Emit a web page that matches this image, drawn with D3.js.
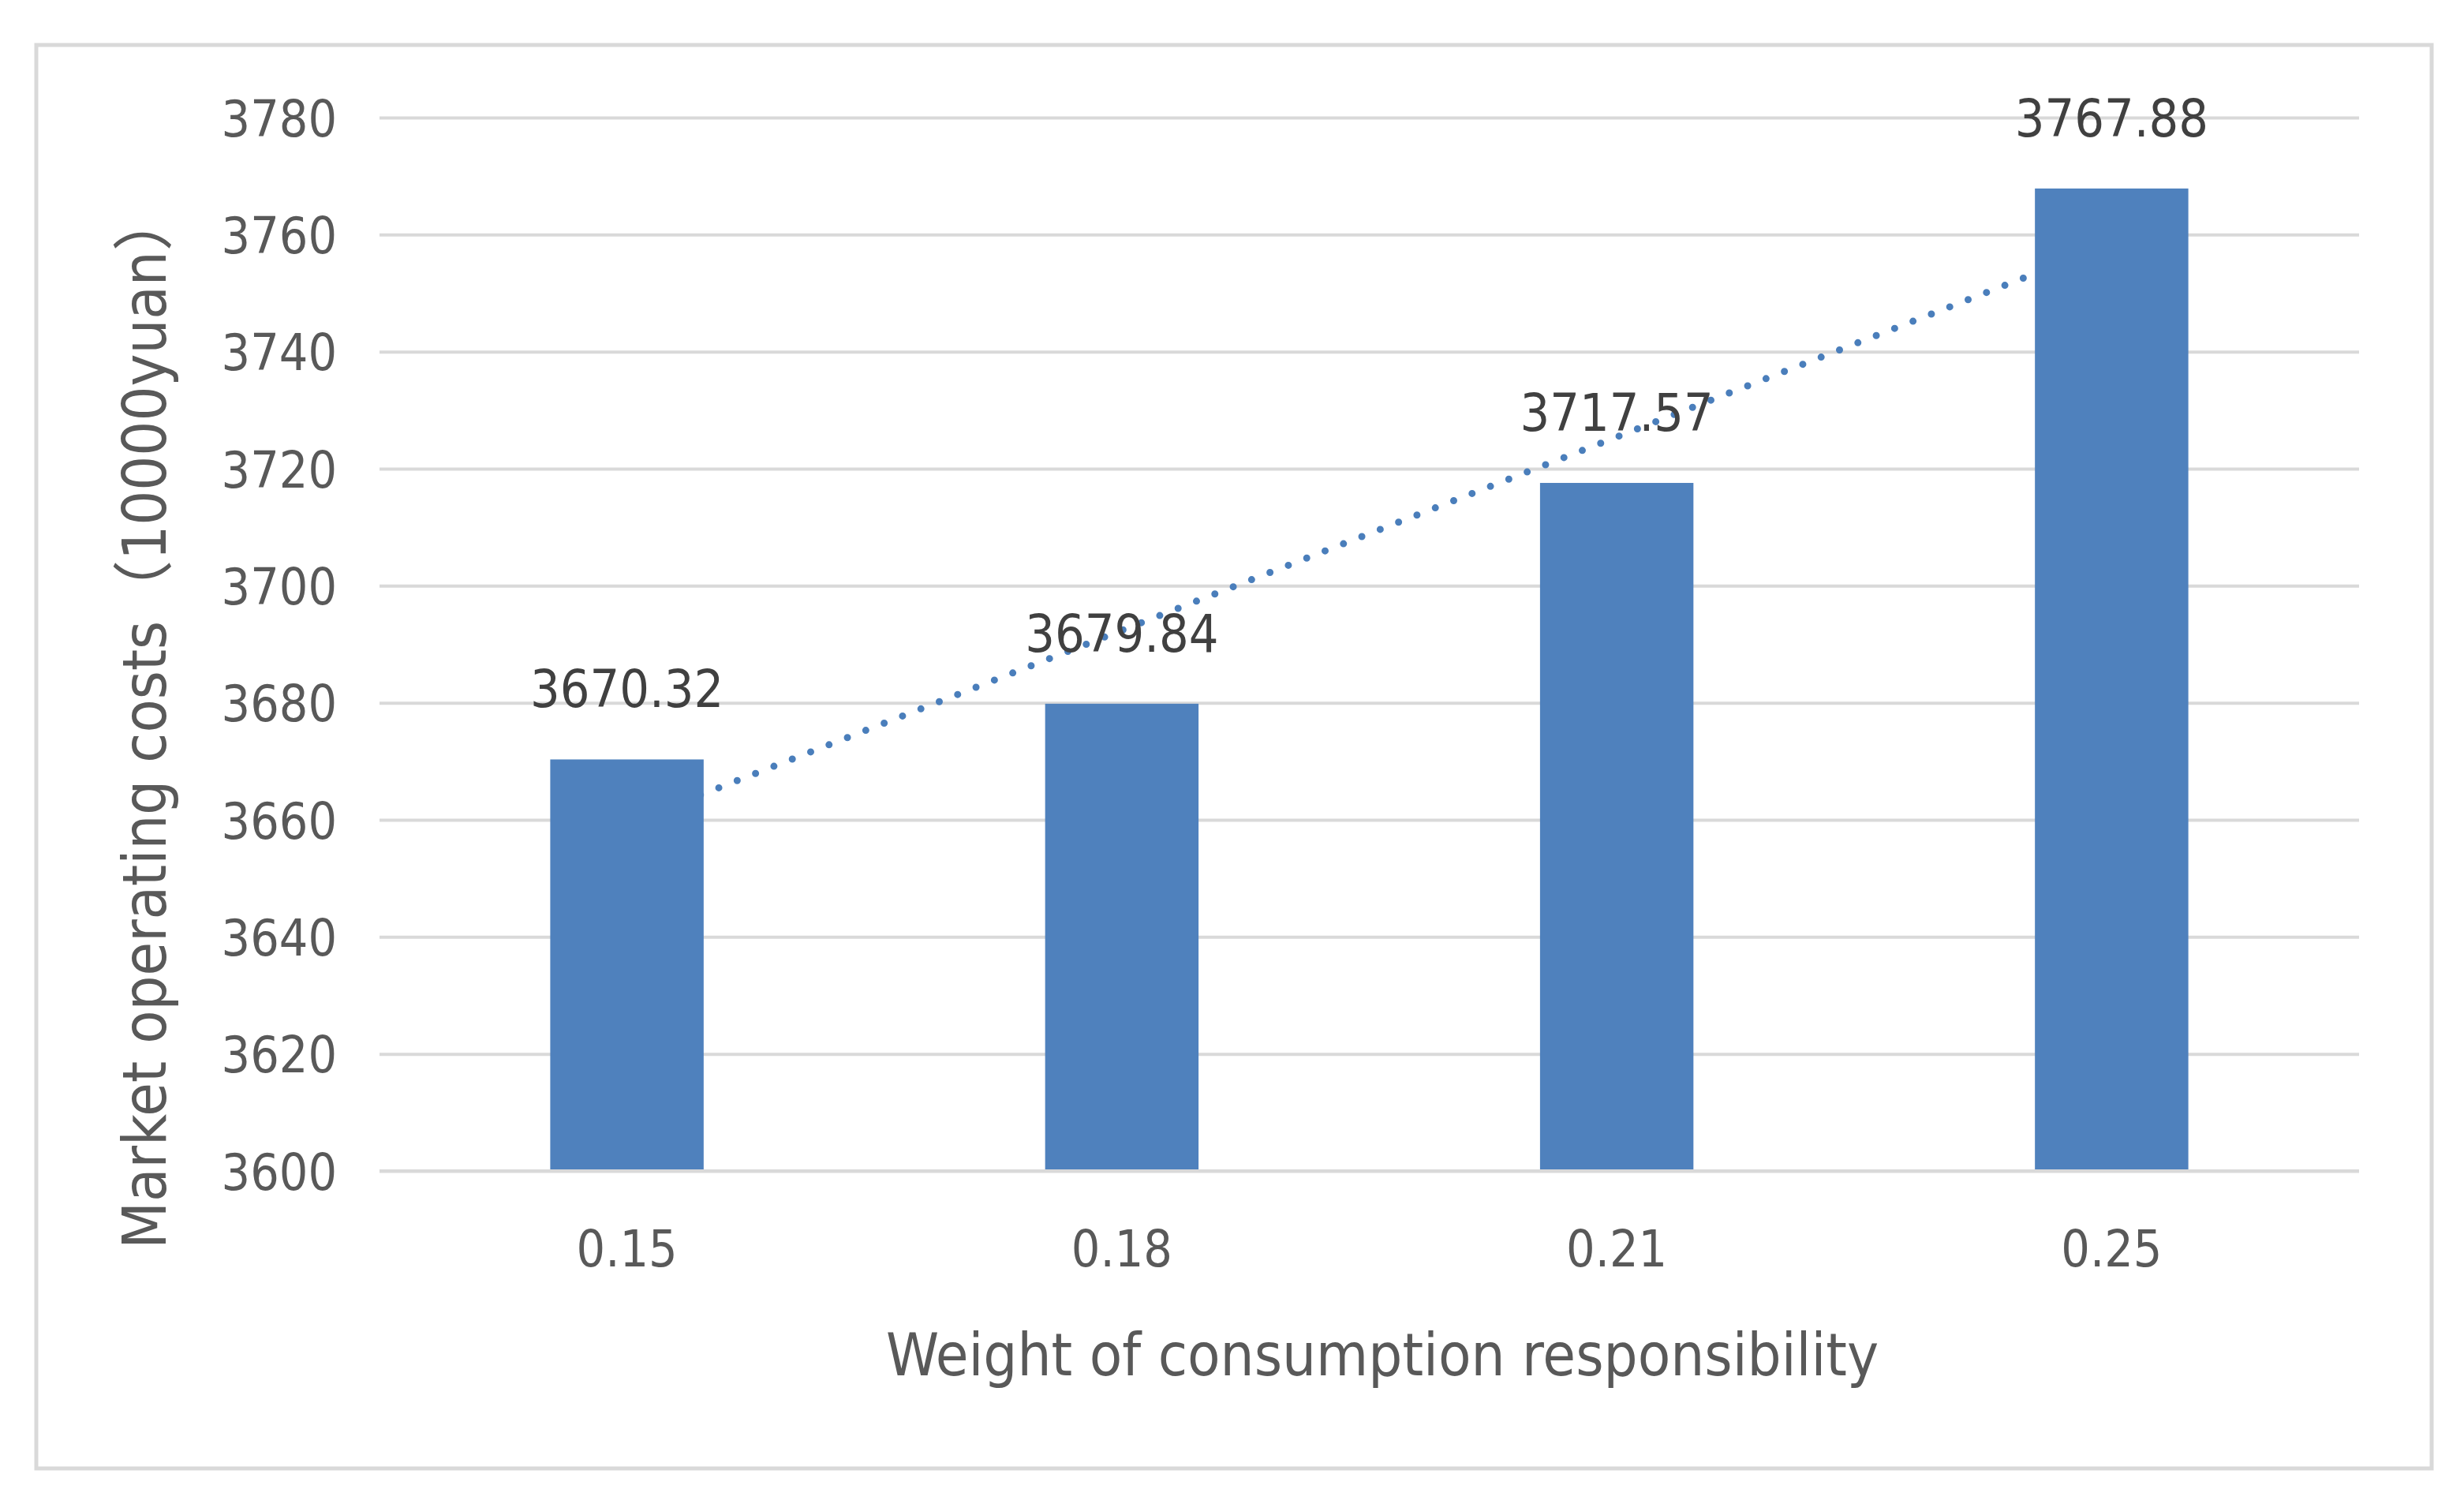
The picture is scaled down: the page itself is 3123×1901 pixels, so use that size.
<!DOCTYPE html>
<html>
<head>
<meta charset="utf-8">
<script src="https://cdn.jsdelivr.net/npm/d3@7"></script>
<style>
  body { margin: 0; background: #fff; }
  svg { display: block; }
</style>
</head>
<body>
<div id="chart"></div>
<script>
const categories = ['0.15', '0.18', '0.21', '0.25']
const costs = [3670.32, 3679.84, 3717.57, 3767.88]
const yTicks = [3600, 3620, 3640, 3660, 3680, 3700, 3720, 3740, 3760, 3780]
const xTitle = 'Weight of consumption responsibility'
const yTitle = 'Market operating costs（10000yuan）'

const W = 3123, H = 1901
const plot = { left: 481, right: 2990, top: 149, bottom: 1484 }
const font = '"DejaVu Sans Condensed", "DejaVu Sans", "Noto Sans CJK SC", sans-serif'
const barColor = '#4f81bd'
const gridColor = '#d9d9d9'

const svg = d3.select('#chart').append('svg')
    .attr('width', W)
    .attr('height', H)

svg.append('rect')
    .attr('width', W).attr('height', H)
    .attr('fill', '#fff')

// chart area border
svg.append('rect')
    .attr('x', 46).attr('y', 57)
    .attr('width', 3082 - 46).attr('height', 1861 - 57)
    .attr('fill', '#fff')
    .attr('stroke', gridColor)
    .attr('stroke-width', 5)

const x = d3.scaleBand()
    .domain(categories)
    .range([plot.left, plot.right])
    .paddingInner(0.69)
    .paddingOuter(0.345)

const y = d3.scaleLinear()
    .domain([3600, 3780])
    .range([plot.bottom, plot.top])

// gridlines + y tick labels
const yAxis = svg.append('g')
    .attr('transform', `translate(${plot.left},0)`)
    .call(d3.axisLeft(y)
        .tickValues(yTicks)
        .tickSize(-(plot.right - plot.left))
        .tickPadding(54)
        .tickFormat(d3.format('d')))

yAxis.select('.domain').remove()
yAxis.selectAll('.tick line')
    .attr('stroke', gridColor)
    .attr('stroke-width', 4)
yAxis.selectAll('.tick text')
    .attr('fill', '#595959')
    .attr('font-family', font)
    .attr('font-size', 64)
    .attr('dy', '0.36em')

// linear trendline (least squares over category index), sits behind the bars
const idx = costs.map((d, i) => i + 1)
const mx = d3.mean(idx), my = d3.mean(costs)
const slope = d3.sum(idx, (v, i) => (v - mx) * (costs[i] - my)) / d3.sum(idx, v => (v - mx) ** 2)
const icpt = my - slope * mx
const trend = [1, idx.length].map(v => ({ cat: categories[v - 1], val: icpt + slope * v }))

svg.append('path')
    .datum(trend)
    .attr('d', d3.line()
        .x(d => x(d.cat) + x.bandwidth() / 2)
        .y(d => y(d.val)))
    .attr('fill', 'none')
    .attr('stroke', '#4a7ebb')
    .attr('stroke-width', 9)
    .attr('stroke-linecap', 'round')
    .attr('stroke-dasharray', '0 25')

// bars
svg.append('g').selectAll('rect')
    .data(costs)
    .enter()
    .append('rect')
    .attr('x', (d, i) => x(categories[i]))
    .attr('y', d => y(d))
    .attr('width', x.bandwidth())
    .attr('height', d => y(3600) - y(d))
    .attr('fill', barColor)

// baseline over bar bottoms
svg.append('line')
    .attr('x1', plot.left).attr('x2', plot.right)
    .attr('y1', y(3600)).attr('y2', y(3600))
    .attr('stroke', gridColor)
    .attr('stroke-width', 4)

// data labels
svg.append('g').selectAll('text')
    .data(costs)
    .enter()
    .append('text')
    .attr('x', (d, i) => x(categories[i]) + x.bandwidth() / 2)
    .attr('y', d => y(d) - 66)
    .attr('text-anchor', 'middle')
    .attr('fill', '#404040')
    .attr('font-family', font)
    .attr('font-size', 66)
    .text(d => d3.format('.2f')(d))

// x tick labels
const xAxis = svg.append('g')
    .attr('transform', `translate(0,${plot.bottom})`)
    .call(d3.axisBottom(x).tickSize(0).tickPadding(0))

xAxis.select('.domain').remove()
xAxis.selectAll('.tick text')
    .attr('y', 121)
    .attr('dy', null)
    .attr('fill', '#595959')
    .attr('font-family', font)
    .attr('font-size', 64)

// axis titles
svg.append('text')
    .attr('x', 1752)
    .attr('y', 1743)
    .attr('text-anchor', 'middle')
    .attr('fill', '#595959')
    .attr('font-family', font)
    .attr('font-size', 75.5)
    .text(xTitle)

svg.append('text')
    .attr('transform', 'translate(210,912) rotate(-90)')
    .attr('text-anchor', 'middle')
    .attr('fill', '#595959')
    .attr('font-family', font)
    .attr('font-size', 77)
    .text(yTitle)
</script>
</body>
</html>
